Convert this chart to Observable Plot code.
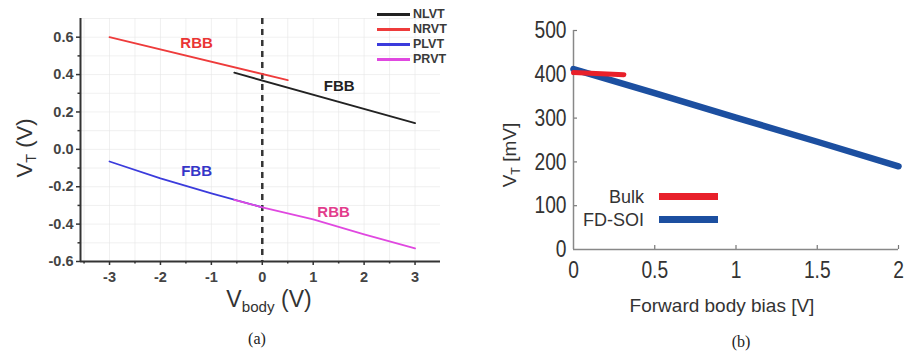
<!DOCTYPE html>
<html><head><meta charset="utf-8">
<script src="https://cdn.jsdelivr.net/npm/d3@7"></script>
<script src="https://cdn.jsdelivr.net/npm/@observablehq/plot@0.6"></script>
<style>
body{margin:0;background:#fff;}
#wrap{position:relative;width:904px;height:355px;overflow:hidden;font-family:"Liberation Sans",Arial,sans-serif;background:#fff;}
.abs{position:absolute;white-space:nowrap;line-height:1;}
.c{transform:translate(-50%,-50%);}
sub{font-size:0.66em;vertical-align:-0.3em;}
.leg{font-weight:bold;font-size:12.5px;color:#3a3a3a;display:flex;align-items:center;height:15px;}
.leg span.sw{display:inline-block;width:33px;height:2.5px;margin-right:3px;}
</style></head><body><div id="wrap">
<div id="pa" class="abs" style="left:0;top:0"></div>
<div id="pb" class="abs" style="left:460px;top:0"></div>
<div id="legA" class="abs" style="left:377px;top:7px"></div>
<div class="abs c" style="left:26px;top:148px;transform:translate(-50%,-50%) rotate(-90deg);font-size:22px;color:#333">V<sub>T</sub> (V)</div>
<div class="abs c" style="left:269px;top:301px;font-size:23px;color:#333">V<sub>body</sub> (V)</div>
<div class="abs c" style="left:257px;top:339px;font-size:16px;font-family:'Liberation Serif','Times New Roman',serif;color:#222">(a)</div>
<div class="abs c" style="left:511px;top:155px;transform:translate(-50%,-50%) rotate(-90deg);font-size:19px;color:#333">V<sub>T</sub> [mV]</div>
<div class="abs c" style="left:722px;top:305px;font-size:19px;color:#333">Forward body bias [V]</div>
<div class="abs c" style="left:741px;top:342px;font-size:16px;font-family:'Liberation Serif','Times New Roman',serif;color:#222">(b)</div>
<div id="legB" class="abs" style="left:560px;top:185px"></div>
</div>
<script>
// ---- Panel (a) data ----
const aSeries = ["NLVT", "NRVT", "PLVT", "PRVT"];
const aColors = ["#222222", "#ee3b3b", "#3b3bdc", "#e048e0"];
const nlvtX = [-0.55, 3];
const nlvtY = [0.41, 0.14];
const nrvtX = [-3, 0.5];
const nrvtY = [0.60, 0.37];
const plvtX = [-3, -2, -1, 0];
const plvtY = [-0.065, -0.155, -0.235, -0.31];
const prvtX = [-0.55, 0, 1, 2, 3];
const prvtY = [-0.27, -0.31, -0.375, -0.455, -0.53];
const aLabelText = ["RBB", "FBB", "FBB", "RBB"];
const aLabelX = [-1.29, 1.51, -1.29, 1.40];
const aLabelY = [0.567, 0.339, -0.117, -0.336];
const aLabelColor = ["#ea3434", "#222222", "#3535c8", "#e23c8c"];
const aXTicks = [-3, -2, -1, 0, 1, 2, 3];
const aYTicks = [-0.6, -0.4, -0.2, 0.0, 0.2, 0.4, 0.6];
const aXMinor = [-3.5, -2.5, -1.5, -0.5, 0.5, 1.5, 2.5];
const aYMinor = [-0.5, -0.3, -0.1, 0.1, 0.3, 0.5, 0.7];

// ---- Panel (b) data ----
const bSeries = ["Bulk", "FD-SOI"];
const bColors = ["#e8202a", "#1c4fa0"];
const fdsoiX = [0, 0.5, 1, 1.5, 2];
const fdsoiY = [412, 357, 301, 246, 190];
const bulkX = [0, 0.31];
const bulkY = [404, 399];
const bXTicks = [0, 0.5, 1, 1.5, 2];
const bYTicks = [0, 100, 200, 300, 400, 500];

const toRows = (xs, ys) => xs.map((x, i) => ({x, y: ys[i]}));
const aData = [toRows(nlvtX, nlvtY), toRows(nrvtX, nrvtY), toRows(plvtX, plvtY), toRows(prvtX, prvtY)];
const aLabels = aLabelText.map((t, i) => ({t, x: aLabelX[i], y: aLabelY[i], c: aLabelColor[i]}));

const ax0 = -3.57, ax1 = 3.5, ay0 = -0.6, ay1 = 0.7;
const pa = Plot.plot({
  width: 460, height: 320,
  marginLeft: 80, marginRight: 20, marginTop: 18, marginBottom: 59,
  x: {domain: [ax0, ax1]},
  y: {domain: [ay0, ay1]},
  style: {fontFamily: "'Liberation Sans', Arial, sans-serif", fontSize: "14.5px", fontWeight: "bold", color: "#444", background: "transparent", overflow: "visible"},
  marks: [
    Plot.gridX(aXTicks.concat(aXMinor), {stroke: "#e6e6e6", strokeOpacity: 0.6}),
    Plot.gridY(aYTicks.concat(aYMinor), {stroke: "#e6e6e6", strokeOpacity: 0.6}),
    Plot.axisX({ticks: aXTicks, tickSize: 4, tickPadding: 6, tickFormat: d => String(d), label: null, stroke: "#333", strokeWidth: 1.5}),
    Plot.axisX({ticks: aXMinor, tickSize: 2.5, tickFormat: () => "", label: null, stroke: "#333", strokeWidth: 1.5}),
    Plot.axisY({ticks: aYTicks, tickSize: 4, tickPadding: 3, tickFormat: d => d.toFixed(1), label: null, stroke: "#333", strokeWidth: 1.5}),
    Plot.axisY({ticks: aYMinor.slice(0, 6), tickSize: 2.5, tickFormat: () => "", label: null, stroke: "#333", strokeWidth: 1.5}),
    Plot.ruleY([ay0], {stroke: "#333", strokeWidth: 2}),
    Plot.ruleX([ax0], {stroke: "#333", strokeWidth: 2}),
    Plot.ruleX([0], {stroke: "#333", strokeWidth: 2.5, strokeDasharray: "6,5"}),
    ...aData.map((d, i) => Plot.line(d, {x: "x", y: "y", stroke: aColors[i], strokeWidth: 1.8})),
    Plot.text(aLabels, {x: "x", y: "y", text: "t", fill: "c", fontSize: 15, fontWeight: "bold"})
  ]
});
document.getElementById("pa").appendChild(pa);

const pb = Plot.plot({
  width: 444, height: 320,
  marginLeft: 113, marginRight: 6, marginTop: 30, marginBottom: 71,
  x: {domain: [0, 2]},
  y: {domain: [0, 500]},
  style: {fontFamily: "'Liberation Sans', Arial, sans-serif", fontSize: "24px", color: "#333", background: "transparent", overflow: "visible"},
  marks: [
    Plot.axisX({ticks: bXTicks, tickSize: 0, tickPadding: 11, tickFormat: d => String(d), label: null}),
    Plot.axisX({ticks: bXTicks.slice(1), tickSize: 4, dy: -4, tickFormat: () => "", label: null, stroke: "#777", strokeWidth: 1.2}),
    Plot.axisY({ticks: bYTicks, tickSize: 0, tickPadding: 7, tickFormat: d => String(d), label: null}),
    Plot.axisY({ticks: bYTicks.slice(1), tickSize: 4, dx: 4, tickFormat: () => "", label: null, stroke: "#777", strokeWidth: 1.2}),
    Plot.ruleY([0], {stroke: "#888", strokeWidth: 1.5}),
    Plot.ruleX([0], {stroke: "#888", strokeWidth: 1.5}),
    Plot.line(toRows(fdsoiX, fdsoiY), {x: "x", y: "y", stroke: bColors[1], strokeWidth: 6.5}),
    Plot.line(toRows(bulkX, bulkY), {x: "x", y: "y", stroke: bColors[0], strokeWidth: 5})
  ]
});
document.getElementById("pb").appendChild(pb);
// condense panel (b) tick labels (narrow typeface look)
pb.querySelectorAll('g[aria-label="y-axis tick label"] text, g[aria-label="x-axis tick label"] text').forEach(t => {
  const tr = t.getAttribute("transform") || "";
  t.setAttribute("transform", tr + " scale(0.8,1)");
});

// legends
const legA = document.getElementById("legA");
aSeries.forEach((s, i) => {
  const r = document.createElement("div");
  r.className = "leg";
  r.innerHTML = `<span class="sw" style="background:${aColors[i]}"></span>${s}`;
  legA.appendChild(r);
});
const legB = document.getElementById("legB");
bSeries.forEach((s, i) => {
  const r = document.createElement("div");
  r.style.cssText = "display:flex;align-items:center;justify-content:flex-end;width:158px;height:23px;font-size:18px;color:#333;";
  r.innerHTML = `<span>${s}</span><span style="display:inline-block;width:59px;height:7px;margin-left:15px;background:${bColors[i]}"></span>`;
  legB.appendChild(r);
});
</script>
</body></html>
